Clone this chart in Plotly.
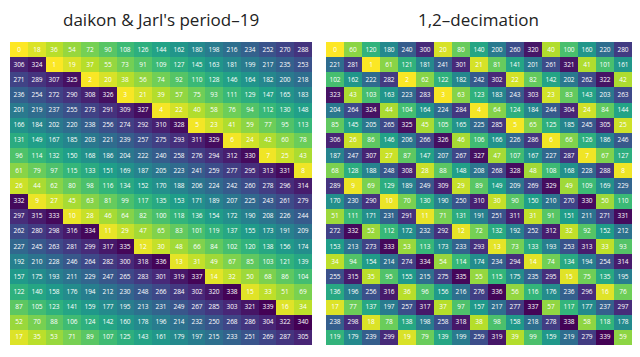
import plotly.graph_objects as go

left_title = "daikon & Jarl's period–19"
right_title = "1,2–decimation"

left_values = [
    [0, 18, 36, 54, 72, 90, 108, 126, 144, 162, 180, 198, 216, 234, 252, 270, 288],
    [306, 324, 1, 19, 37, 55, 73, 91, 109, 127, 145, 163, 181, 199, 217, 235, 253],
    [271, 289, 307, 325, 2, 20, 38, 56, 74, 92, 110, 128, 146, 164, 182, 200, 218],
    [236, 254, 272, 290, 308, 326, 3, 21, 39, 57, 75, 93, 111, 129, 147, 165, 183],
    [201, 219, 237, 255, 273, 291, 309, 327, 4, 22, 40, 58, 76, 94, 112, 130, 148],
    [166, 184, 202, 220, 238, 256, 274, 292, 310, 328, 5, 23, 41, 59, 77, 95, 113],
    [131, 149, 167, 185, 203, 221, 239, 257, 275, 293, 311, 329, 6, 24, 42, 60, 78],
    [96, 114, 132, 150, 168, 186, 204, 222, 240, 258, 276, 294, 312, 330, 7, 25, 43],
    [61, 79, 97, 115, 133, 151, 169, 187, 205, 223, 241, 259, 277, 295, 313, 331, 8],
    [26, 44, 62, 80, 98, 116, 134, 152, 170, 188, 206, 224, 242, 260, 278, 296, 314],
    [332, 9, 27, 45, 63, 81, 99, 117, 135, 153, 171, 189, 207, 225, 243, 261, 279],
    [297, 315, 333, 10, 28, 46, 64, 82, 100, 118, 136, 154, 172, 190, 208, 226, 244],
    [262, 280, 298, 316, 334, 11, 29, 47, 65, 83, 101, 119, 137, 155, 173, 191, 209],
    [227, 245, 263, 281, 299, 317, 335, 12, 30, 48, 66, 84, 102, 120, 138, 156, 174],
    [192, 210, 228, 246, 264, 282, 300, 318, 336, 13, 31, 49, 67, 85, 103, 121, 139],
    [157, 175, 193, 211, 229, 247, 265, 283, 301, 319, 337, 14, 32, 50, 68, 86, 104],
    [122, 140, 158, 176, 194, 212, 230, 248, 266, 284, 302, 320, 338, 15, 33, 51, 69],
    [87, 105, 123, 141, 159, 177, 195, 213, 231, 249, 267, 285, 303, 321, 339, 16, 34],
    [52, 70, 88, 106, 124, 142, 160, 178, 196, 214, 232, 250, 268, 286, 304, 322, 340],
    [17, 35, 53, 71, 89, 107, 125, 143, 161, 179, 197, 215, 233, 251, 269, 287, 305],
]

right_values = [
    [0, 60, 120, 180, 240, 300, 20, 80, 140, 200, 260, 320, 40, 100, 160, 220, 280],
    [221, 281, 1, 61, 121, 181, 241, 301, 21, 81, 141, 201, 261, 321, 41, 101, 161],
    [102, 162, 222, 282, 2, 62, 122, 182, 242, 302, 22, 82, 142, 202, 262, 322, 42],
    [323, 43, 103, 163, 223, 283, 3, 63, 123, 183, 243, 303, 23, 83, 143, 203, 263],
    [204, 264, 324, 44, 104, 164, 224, 284, 4, 64, 124, 184, 244, 304, 24, 84, 144],
    [85, 145, 205, 265, 325, 45, 105, 165, 225, 285, 5, 65, 125, 185, 245, 305, 25],
    [306, 26, 86, 146, 206, 266, 326, 46, 106, 166, 226, 286, 6, 66, 126, 186, 246],
    [187, 247, 307, 27, 87, 147, 207, 267, 327, 47, 107, 167, 227, 287, 7, 67, 127],
    [68, 128, 188, 248, 308, 28, 88, 148, 208, 268, 328, 48, 108, 168, 228, 288, 8],
    [289, 9, 69, 129, 189, 249, 309, 29, 89, 149, 209, 269, 329, 49, 109, 169, 229],
    [170, 230, 290, 10, 70, 130, 190, 250, 310, 30, 90, 150, 210, 270, 330, 50, 110],
    [51, 111, 171, 231, 291, 11, 71, 131, 191, 251, 311, 31, 91, 151, 211, 271, 331],
    [272, 332, 52, 112, 172, 232, 292, 12, 72, 132, 192, 252, 312, 32, 92, 152, 212],
    [153, 213, 273, 333, 53, 113, 173, 233, 293, 13, 73, 133, 193, 253, 313, 33, 93],
    [34, 94, 154, 214, 274, 334, 54, 114, 174, 234, 294, 14, 74, 134, 194, 254, 314],
    [255, 315, 35, 95, 155, 215, 275, 335, 55, 115, 175, 235, 295, 15, 75, 135, 195],
    [136, 196, 256, 316, 36, 96, 156, 216, 276, 336, 56, 116, 176, 236, 296, 16, 76],
    [17, 77, 137, 197, 257, 317, 37, 97, 157, 217, 277, 337, 57, 117, 177, 237, 297],
    [238, 298, 18, 78, 138, 198, 258, 318, 38, 98, 158, 218, 278, 338, 58, 118, 178],
    [119, 179, 239, 299, 19, 79, 139, 199, 259, 319, 39, 99, 159, 219, 279, 339, 59],
]

n_cols = len(left_values[0])
n_rows = len(left_values)
cols = list(range(n_cols))
rows = list(range(n_rows))

# page body has an 8px margin; lay out in figure pixels = screen pixels - 8
W, H = 632, 349
def px_x(sx):
    return (sx - 8) / W
def px_y(sy):
    return 1 - (sy - 8) / H

common = dict(
    colorscale="Viridis", reversescale=True, zmin=0, zmax=340,
    showscale=False, texttemplate="%{z}",
    textfont=dict(size=6.5, color="white", family="Open Sans"),
    hoverinfo="skip",
)

fig = go.Figure()
fig.add_trace(go.Heatmap(z=left_values, x=cols, y=rows, xaxis="x", yaxis="y", **common))
fig.add_trace(go.Heatmap(z=right_values, x=cols, y=rows, xaxis="x2", yaxis="y2", **common))

ax = dict(showticklabels=False, showgrid=False, zeroline=False, ticks="")
ydom = [px_y(345), px_y(42)]
fig.update_layout(
    width=W, height=H,
    autosize=False,
    margin=dict(l=0, r=0, t=0, b=0, pad=0),
    paper_bgcolor="white", plot_bgcolor="white",
    xaxis=dict(domain=[px_x(10), px_x(312)], anchor="y", **ax),
    xaxis2=dict(domain=[px_x(326), px_x(632)], anchor="y2", **ax),
    yaxis=dict(domain=ydom, anchor="x", autorange="reversed", **ax),
    yaxis2=dict(domain=ydom, anchor="x2", autorange="reversed", **ax),
    annotations=[
        dict(text=left_title, x=px_x(161), y=px_y(19), xref="paper", yref="paper",
             xanchor="center", yanchor="middle",
             showarrow=False, font=dict(size=17, color="#222", family="Open Sans")),
        dict(text=right_title, x=px_x(478), y=px_y(19), xref="paper", yref="paper",
             xanchor="center", yanchor="middle",
             showarrow=False, font=dict(size=17, color="#222", family="Open Sans")),
    ],
)

fig.write_html("out.html")
